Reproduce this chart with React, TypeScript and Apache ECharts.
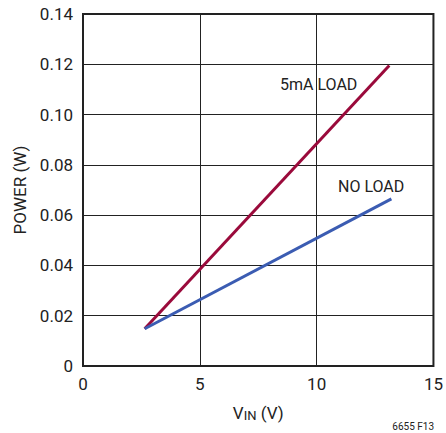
import React, { useEffect, useRef } from "react";
import * as echarts from "echarts";

const vin5mA = [2.64, 13.11];
const power5mA = [0.0148, 0.1195];
const vinNoLoad = [2.64, 13.2];
const powerNoLoad = [0.0148, 0.0665];
const xTicks = [0, 5, 10, 15];
const yTicks = [0, 0.02, 0.04, 0.06, 0.08, 0.1, 0.12, 0.14];

const FONT = "'Roboto', 'Liberation Sans', sans-serif";

export default function App() {
  const ref = useRef<HTMLDivElement>(null);
  useEffect(() => {
    document.body.style.margin = "0";
    const chart = echarts.init(ref.current!, null, { renderer: "svg" });
    chart.setOption({
      animation: false,
      backgroundColor: "#ffffff",
      grid: { left: 83, right: 11, top: 14, bottom: 67, show: true, borderColor: "#222", borderWidth: 2 },
      xAxis: {
        type: "value",
        min: 0,
        max: 15,
        interval: 5,
        axisLine: { show: false },
        axisTick: { show: false },
        splitLine: { show: true, lineStyle: { color: "#222", width: 1 } },
        axisLabel: {
          color: "#222",
          fontFamily: FONT,
          fontSize: 17,
          margin: 9,
          formatter: (v: number) => (xTicks.includes(v) ? String(v) : ""),
        },
        name: "V{sub|IN} (V)",
        nameLocation: "middle",
        nameGap: 37,
        nameTextStyle: {
          color: "#222",
          fontFamily: FONT,
          fontSize: 17,
          rich: {
            sub: { fontFamily: FONT, fontSize: 13, color: "#222", verticalAlign: "bottom", padding: [6, 0, 0, 0] },
          },
        },
      },
      yAxis: {
        type: "value",
        min: 0,
        max: 0.14,
        interval: 0.02,
        axisLine: { show: false },
        axisTick: { show: false },
        splitLine: { show: true, lineStyle: { color: "#222", width: 1 } },
        axisLabel: {
          color: "#222",
          fontFamily: FONT,
          fontSize: 17,
          margin: 10,
          formatter: (v: number) => {
            const t = yTicks.find((y) => Math.abs(y - v) < 1e-9);
            if (t === undefined) return "";
            return t === 0 ? "0" : t.toFixed(2);
          },
        },
        name: "POWER (W)",
        nameLocation: "middle",
        nameGap: 53,
        nameRotate: 90,
        nameTextStyle: { color: "#222", fontFamily: FONT, fontSize: 17 },
      },
      series: [
        {
          type: "line",
          name: "5mA LOAD",
          data: vin5mA.map((x, i) => [x, power5mA[i]]),
          showSymbol: false,
          lineStyle: { color: "#9a0a3b", width: 3 },
          z: 3,
        },
        {
          type: "line",
          name: "NO LOAD",
          data: vinNoLoad.map((x, i) => [x, powerNoLoad[i]]),
          showSymbol: false,
          lineStyle: { color: "#3b5cb2", width: 3 },
          z: 4,
        },
      ],
      graphic: [
        {
          type: "text",
          left: 280,
          top: 76,
          style: { text: "5mA LOAD", fill: "#222", font: `16px ${FONT}` },
        },
        {
          type: "text",
          left: 338,
          top: 178,
          style: { text: "NO LOAD", fill: "#222", font: `16px ${FONT}` },
        },
        {
          type: "text",
          right: 12,
          top: 421,
          style: { text: "6655 F13", fill: "#222", font: `10px ${FONT}` },
        },
      ],
    });
    return () => chart.dispose();
  }, []);
  return <div ref={ref} style={{ position: "absolute", left: 0, top: 0, width: 446, height: 433 }} />;
}
